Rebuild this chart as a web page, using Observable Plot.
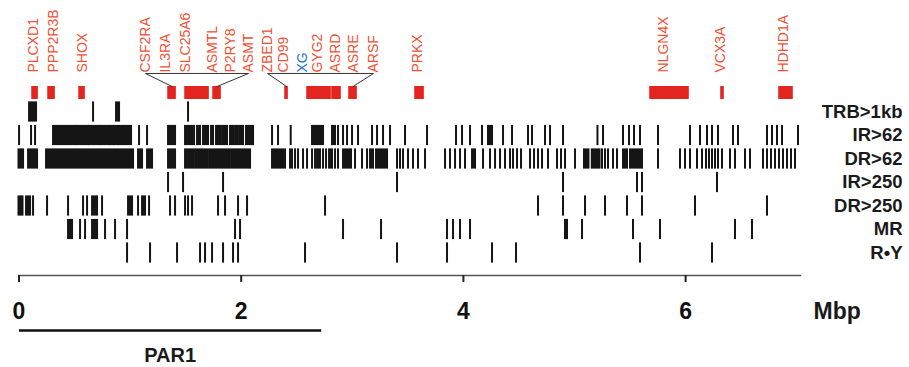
<!DOCTYPE html>
<html>
<head>
<meta charset="utf-8">
<script src="https://cdn.jsdelivr.net/npm/d3@7"></script>
<script src="https://cdn.jsdelivr.net/npm/@observablehq/plot@0.6"></script>
<style>
  html, body { margin: 0; padding: 0; background: #fff; }
  #chart { width: 909px; height: 367px; }
</style>
</head>
<body>
<div id="chart"></div>
<script>
// ---------- data (Mbp) ----------
const rowNames = ["TRB>1kb", "IR>62", "DR>62", "IR>250", "DR>250", "MR", "R•Y"];

// numbers = thin lines, [start, end] = solid blocks
const trb = [[0.095, 0.158], 0.671, [0.878, 0.905], 1.526];
const ir62 = [0.005, 0.113, 0.149, [0.311, 0.518], [0.527, 0.626], [0.635, 0.725], [0.734, 0.815],
  [0.824, 0.851], [0.860, 0.896], [0.905, 1.013], 1.085, 1.157, [1.346, 1.409], [1.499, 1.562], 1.580,
  [1.607, 1.634], [1.661, 1.706], [1.733, 1.751], [1.778, 1.814], [1.832, 1.877], [1.904, 1.931],
  [1.949, 1.967], [1.985, 2.021], [2.048, 2.111], 2.282, 2.336, 2.450, [2.642, 2.741], [2.822, 2.849],
  2.876, 2.921, 2.957, 3.002, 3.056, 3.182, 3.227, 3.281, 3.344, 3.479, 3.677, 3.938, 3.992, 4.064,
  4.172, [4.226, 4.262], 4.361, 4.442, 4.586, 4.622, 4.739, 4.784, 4.901, 5.211, 5.261, 5.441, 5.495,
  5.540, 5.594, 5.756, 6.044, 6.134, 6.197, 6.242, 6.296, 6.431, 6.476, 6.737, 6.782, 6.827, 6.872, 7.016];
const dr62 = [[0.0, 0.041], [0.086, 0.167], [0.248, 1.031], [1.076, 1.112], [1.157, 1.202], [1.346, 1.409],
  [1.499, 1.571], [1.589, 1.697], [1.715, 1.895], [1.913, 2.084], [2.282, 2.381], 2.399, 2.444, 2.462,
  2.489, 2.516, 2.561, 2.597, 2.642, 2.669, [2.687, 2.714], 2.741, 2.768, [2.795, 2.822], 2.849, 2.876,
  [2.921, 2.993], 3.029, 3.092, 3.137, [3.164, 3.191], [3.218, 3.317], 3.407, 3.434, 3.461, 3.506,
  3.551, 3.596, 3.659, 3.839, 3.884, 3.929, 3.974, 4.019, [4.082, 4.109], 4.181, 4.244, 4.289, 4.334,
  4.379, 4.424, 4.451, 4.487, 4.523, 4.604, 4.640, 4.676, 4.712, 4.766, 4.847, 4.883, 4.919, 5.009,
  [5.090, 5.130], [5.160, 5.230], 5.252, 5.279, 5.306, 5.351, 5.387, [5.441, 5.477], [5.504, 5.612],
  5.756, 5.954, 5.999, 6.044, 6.107, 6.152, 6.188, 6.215, 6.242, 6.269, 6.296, 6.332, 6.404, 6.449,
  6.539, 6.584, 6.701, 6.737, 6.773, 6.809, 6.845, 6.881, 6.917, 6.953, 6.989];
const ir250 = [1.346, 1.481, 1.841, 3.407, 4.901, 5.567, 5.612, 6.287];
const dr250 = [[0.0, 0.036], [0.068, 0.104], 0.131, 0.257, 0.446, 0.581, 0.617, [0.662, 0.707], 0.752,
  [0.986, 1.022], 1.076, [1.112, 1.139], 1.175, 1.364, 1.409, 1.499, 1.526, 1.562, 1.796, 1.859,
  1.976, 2.057, 2.759, 4.676, 4.901, 5.099, 5.279, 5.477, 5.612, 6.089, 6.737];
const mr = [[0.446, 0.482], 0.554, 0.599, [0.662, 0.707], 0.779, 0.869, 0.977, 1.949, 1.994, 2.921, 3.263,
  3.857, 3.911, 3.974, 4.064, 4.919, 4.937, 5.072, 5.531, 5.774, 6.449, 6.602];
const ry = [0.977, 1.184, 1.427, 1.634, 1.679, 1.742, 1.841, 1.931, 1.976, 2.579, 3.407, 3.857, 4.262,
  4.478, 5.594, 6.242];

// gene labels (label position, Mbp)
const geneNames = ["PLCXD1", "PPP2R3B", "SHOX", "CSF2RA", "IL3RA", "SLC25A6", "ASMTL", "P2RY8", "ASMT",
  "ZBED1", "CD99", "XG", "GYG2", "ASRD", "ASRE", "ARSF", "PRKX", "NLGN4X", "VCX3A", "HDHD1A"];
const geneLabelPos = [0.131, 0.311, 0.572, 1.139, 1.319, 1.499, 1.742, 1.904, 2.066,
  2.237, 2.381, 2.552, 2.687, 2.849, 3.011, 3.191, 3.587, 5.801, 6.314, 6.881];
const highlightGene = "XG";

// gene boxes (Mbp)
const boxGenes = ["PLCXD1", "PPP2R3B", "SHOX", "IL3RA", "SLC25A6", "P2RY8", "CD99", "GYG2", "ASRD",
  "ASRE", "PRKX", "NLGN4X", "VCX3A", "HDHD1A"];
const boxStart = [0.122, 0.266, 0.545, 1.346, 1.499, 1.751, 2.399, 2.597, 2.822, 2.975, 3.569, 5.684, 6.323, 6.845];
const boxEnd = [0.167, 0.320, 0.590, 1.409, 1.706, 1.814, 2.417, 2.804, 2.894, 3.038, 3.641, 6.026, 6.341, 6.962];

// brackets linking grouped labels to boxes
const bracketFirst = ["CSF2RA", "ZBED1"];
const bracketLast = ["ASMT", "ARSF"];
const bracketLeftBox = ["IL3RA", "CD99"];
const bracketRightBox = ["P2RY8", "ASRE"];

const par1 = {start: 0, end: 2.72, label: "PAR1"};
const xTicks = [0, 2, 4, 6];

// ---------- layout (in track units: one row = 1) ----------
const L = {half: 0.43, boxTop: -1.085, boxBottom: -0.532, labelBase: -1.68, bracketTop: -1.64,
  par1Line: 9.30, par1Text: 10.36};

// ---------- build records ----------
const rowSeries = [trb, ir62, dr62, ir250, dr250, mr, ry];
const segs = rowSeries.flatMap((arr, i) => arr.map(v => Array.isArray(v)
  ? {row: i, x1: v[0], x2: v[1]} : {row: i, x1: v, x2: v}));
const labels = geneNames.map((g, i) => ({gene: g, x: geneLabelPos[i]}));
const boxes = boxGenes.map((g, i) => ({gene: g, x1: boxStart[i], x2: boxEnd[i]}));
const lblPos = Object.fromEntries(labels.map(d => [d.gene, d.x]));
const boxMid = Object.fromEntries(boxes.map(d => [d.gene, (d.x1 + d.x2) / 2]));
const bracketPts = bracketFirst.flatMap((f, i) => [
  {g: i, x: boxMid[bracketLeftBox[i]], y: L.boxTop},
  {g: i, x: lblPos[f], y: L.bracketTop},
  {g: i, x: lblPos[bracketLast[i]], y: L.bracketTop},
  {g: i, x: boxMid[bracketRightBox[i]], y: L.boxTop}
]);

const font = "Liberation Sans, Arial, Helvetica, sans-serif";
const red = "#e3241f", labelRed = "#ee5133", blue = "#2a72c4";

const chart = Plot.plot({
  width: 909, height: 367,
  marginLeft: 18.5, marginRight: 109, marginTop: 0, marginBottom: 92,
  style: {fontFamily: font, background: "#fff", color: "#111"},
  x: {domain: [0, 7.034], axis: null},
  y: {domain: [0, 6], range: [111.5, 252.5], axis: null},
  marks: [
    Plot.rect(segs, {x1: "x1", x2: "x2", y1: d => d.row - L.half, y2: d => d.row + L.half,
      fill: "#151515", insetLeft: -1, insetRight: -1}),
    Plot.rect(boxes, {x1: "x1", x2: "x2", y1: L.boxTop, y2: L.boxBottom, fill: red,
      insetLeft: -0.8, insetRight: -0.8}),
    Plot.line(bracketPts, {x: "x", y: "y", z: "g", stroke: "#333", strokeWidth: 1}),
    Plot.text(labels, {x: "x", y: L.labelBase, text: "gene", rotate: -90, textAnchor: "start",
      fontSize: 14, fontFamily: font, fill: d => d.gene === highlightGene ? blue : labelRed,
      fontWeight: d => d.gene === highlightGene ? "bold" : "normal"}),
    Plot.text(rowNames, {y: (d, i) => i, text: d => d, frameAnchor: "right", dx: 102,
      textAnchor: "end", fontSize: 18.5, fontWeight: "bold", fontFamily: font, fill: "#1a1a1a"}),
    Plot.frame({anchor: "bottom", stroke: "#555", strokeWidth: 1.5}),
    Plot.axisX({ticks: xTicks, tickSize: 7, tickPadding: 20, fontSize: 23, fontWeight: "bold",
      fontFamily: font, label: null, stroke: "#222", strokeWidth: 2, tickFormat: d => String(d)}),
    Plot.text(["Mbp"], {frameAnchor: "bottom-right", text: d => d, dx: 13, dy: 27, textAnchor: "start",
      lineAnchor: "top", fontSize: 23, fontWeight: "bold", fontFamily: font, fill: "#1a1a1a"}),
    Plot.link([par1], {x1: "start", x2: "end", y1: L.par1Line, y2: L.par1Line, stroke: "#111", strokeWidth: 2.5}),
    Plot.text([par1], {x: d => (d.start + d.end) / 2, y: L.par1Text, text: "label", fontSize: 20,
      fontWeight: "bold", fontFamily: font, fill: "#1a1a1a"})
  ]
});
document.getElementById("chart").appendChild(chart);
</script>
</body>
</html>
